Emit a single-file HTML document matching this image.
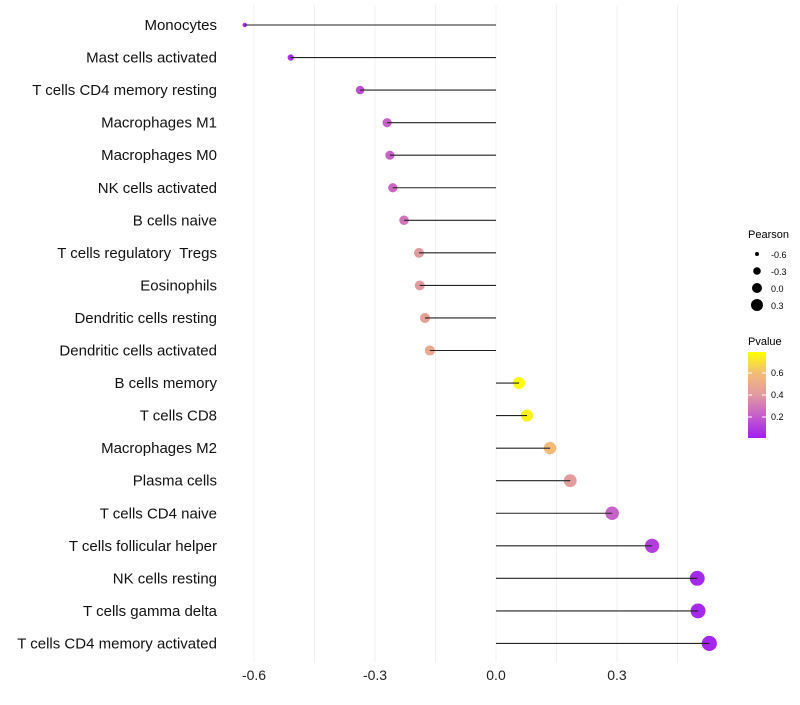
<!DOCTYPE html>
<html><head><meta charset="utf-8"><style>
body{margin:0;background:#fff;font-family:"Liberation Sans",sans-serif}
text{white-space:pre}
</style></head><body>
<svg id="chart" width="800" height="700" xmlns="http://www.w3.org/2000/svg">
<defs><linearGradient id="pg" x1="0" y1="1" x2="0" y2="0">
<stop offset="0" stop-color="#a020f0"/><stop offset="0.25" stop-color="#c45ccc"/><stop offset="0.5" stop-color="#e09aa0"/><stop offset="0.75" stop-color="#f2bc78"/><stop offset="1" stop-color="#ffff00"/></linearGradient></defs>
<g id="grid"></g><g id="marks"></g><g id="labels"></g>
<g font-size="10">
<text x="748" y="238" font-size="11">Pearson</text>
<circle cx="757" cy="254" r="2"/><text x="771" y="258" font-size="9">-0.6</text>
<circle cx="757" cy="271" r="3.8"/><text x="771" y="275" font-size="9">-0.3</text>
<circle cx="757" cy="288" r="5"/><text x="771" y="292" font-size="9">0.0</text>
<circle cx="757" cy="305" r="6"/><text x="771" y="309" font-size="9">0.3</text>
<text x="748" y="345" font-size="11">Pvalue</text>
<rect x="748" y="352" width="18" height="86" fill="url(#pg)"/>
<g stroke="#fff" stroke-width="1"><line x1="748" y1="373" x2="752" y2="373"/><line x1="762" y1="373" x2="766" y2="373"/><line x1="748" y1="395" x2="752" y2="395"/><line x1="762" y1="395" x2="766" y2="395"/><line x1="748" y1="417" x2="752" y2="417"/><line x1="762" y1="417" x2="766" y2="417"/></g>
<text x="771" y="376" font-size="9">0.6</text><text x="771" y="398" font-size="9">0.4</text><text x="771" y="420" font-size="9">0.2</text>
</g>
</svg>
<script>
const cells=["Monocytes","Mast cells activated","T cells CD4 memory resting","Macrophages M1","Macrophages M0","NK cells activated","B cells naive","T cells regulatory  Tregs","Eosinophils","Dendritic cells resting","Dendritic cells activated","B cells memory","T cells CD8","Macrophages M2","Plasma cells","T cells CD4 naive","T cells follicular helper","NK cells resting","T cells gamma delta","T cells CD4 memory activated"];
const pearson=[-0.623,-0.509,-0.337,-0.270,-0.263,-0.256,-0.228,-0.191,-0.189,-0.176,-0.164,0.057,0.077,0.134,0.184,0.288,0.387,0.499,0.501,0.529];
const pvalue=[0.03,0.05,0.15,0.22,0.22,0.24,0.28,0.40,0.40,0.44,0.48,0.80,0.76,0.60,0.42,0.22,0.10,0.03,0.03,0.02];
const xTicks=[-0.6,-0.3,0.0,0.3];
const xTickLabels=["-0.6","-0.3","0.0","0.3"];
const NS="http://www.w3.org/2000/svg";
const xs=v=>496+v*403.3;
const ys=i=>25+i*32.55;
const stops=[[0,[160,32,240]],[0.2,[196,92,204]],[0.4,[224,154,160]],[0.6,[242,188,120]],[0.8,[255,255,0]]];
function col(p){p=Math.max(0,Math.min(0.8,p));for(let k=0;k<stops.length-1;k++){const a=stops[k],b=stops[k+1];if(p<=b[0]){const t=(p-a[0])/(b[0]-a[0]);const c=a[1].map((x,j)=>Math.round(x+(b[1][j]-x)*t));return`rgb(${c})`;}}return"rgb(255,255,0)";}
const rad=v=>Math.sqrt(5+(v+0.62)*45);
function mk(t,a,p){const e=document.createElementNS(NS,t);for(const k in a)e.setAttribute(k,a[k]);p.appendChild(e);return e;}
const grid=document.getElementById('grid'),marks=document.getElementById('marks'),labels=document.getElementById('labels');
for(let v=-0.6;v<=0.46;v+=0.15){const g=mk('line',{x1:xs(v),x2:xs(v),y1:5,y2:662,stroke:'#f0f0f0','stroke-width':1},grid);

}
xTicks.forEach((v,i)=>{const t=mk('text',{x:xs(v),y:680,'text-anchor':'middle','font-size':14,fill:'#222'},labels);t.textContent=xTickLabels[i];

});
cells.forEach((c,i)=>{const y=ys(i);
const t=mk('text',{x:217,y:y+5,'text-anchor':'end','font-size':15,fill:'#111'},labels);t.textContent=c;


const d=mk('circle',{cx:xs(pearson[i]),cy:y,r:rad(pearson[i]),fill:col(pvalue[i])},marks);


const l=mk('line',{x1:xs(0),x2:xs(pearson[i]),y1:y,y2:y,stroke:'#222','stroke-width':1.1},marks);

});
</script>
</body></html>
